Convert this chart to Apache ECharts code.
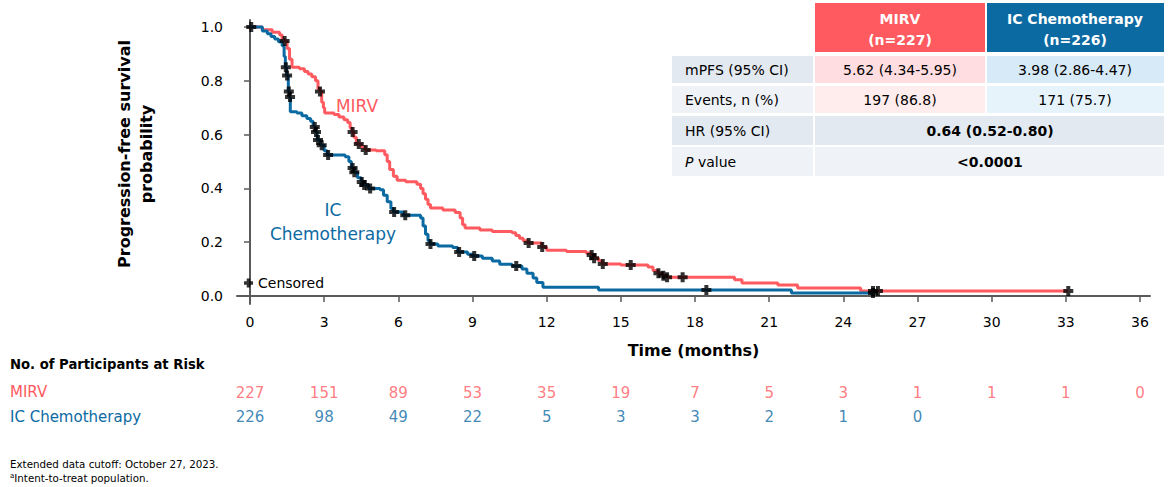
<!DOCTYPE html>
<html><head><meta charset="utf-8">
<script src="https://cdn.jsdelivr.net/npm/echarts@6/dist/echarts.min.js"></script>
<style>html,body{margin:0;padding:0;background:#fff}#c{width:1170px;height:487px}</style>
</head><body><div id="c"></div>
<script>
// ---------- DATA ----------
const xTicks = [0,3,6,9,12,15,18,21,24,27,30,33,36];
const yTicks = [0,0.2,0.4,0.6,0.8,1.0];

const mirvCurve = [[0,1.0],[0.5,0.99],[0.9,0.98],[1.2,0.97],[1.3,0.955],[1.38,0.948],[1.5,0.92],[1.6,0.88],[1.7,0.85],[2.0,0.845],[2.2,0.835],[2.35,0.825],[2.5,0.815],[2.65,0.80],[2.75,0.77],[2.83,0.76],[2.9,0.72],[2.97,0.70],[3.02,0.68],[3.4,0.675],[3.6,0.665],[3.8,0.655],[3.95,0.645],[4.05,0.625],[4.13,0.61],[4.2,0.59],[4.3,0.565],[4.5,0.555],[4.66,0.543],[5.1,0.54],[5.45,0.525],[5.55,0.50],[5.65,0.47],[5.8,0.445],[5.95,0.43],[6.3,0.425],[6.75,0.415],[6.9,0.40],[7.0,0.38],[7.1,0.36],[7.2,0.34],[7.3,0.327],[7.8,0.32],[8.3,0.31],[8.5,0.29],[8.6,0.265],[8.7,0.253],[9.3,0.245],[9.8,0.24],[10.6,0.235],[10.75,0.225],[10.9,0.215],[11.05,0.205],[11.25,0.197],[11.8,0.182],[12.0,0.17],[12.8,0.165],[13.6,0.16],[13.8,0.152],[13.9,0.14],[14.1,0.13],[14.25,0.119],[15.0,0.115],[16.1,0.108],[16.3,0.095],[16.5,0.085],[16.7,0.075],[16.85,0.07],[19.6,0.06],[19.9,0.048],[21.35,0.041],[22.15,0.03],[24.7,0.019],[33.1,0.019]];
const icCurve = [[0,1.0],[0.5,0.985],[0.7,0.975],[0.85,0.965],[1.0,0.955],[1.15,0.945],[1.3,0.93],[1.38,0.89],[1.43,0.85],[1.48,0.82],[1.55,0.76],[1.6,0.74],[1.63,0.685],[1.9,0.68],[2.1,0.67],[2.3,0.66],[2.45,0.65],[2.55,0.635],[2.6,0.628],[2.65,0.61],[2.72,0.58],[2.85,0.56],[3.0,0.54],[3.12,0.524],[3.85,0.518],[4.0,0.50],[4.1,0.476],[4.2,0.46],[4.35,0.44],[4.5,0.424],[4.6,0.413],[4.8,0.40],[5.26,0.395],[5.4,0.375],[5.55,0.35],[5.7,0.325],[5.8,0.312],[6.2,0.30],[6.9,0.29],[7.0,0.26],[7.1,0.23],[7.2,0.205],[7.28,0.193],[7.6,0.186],[8.2,0.18],[8.4,0.164],[8.8,0.155],[9.0,0.149],[9.4,0.14],[9.8,0.13],[10.1,0.118],[10.6,0.112],[11.0,0.10],[11.2,0.085],[11.45,0.067],[11.6,0.05],[11.85,0.033],[14.1,0.022],[21.9,0.011],[25.2,0.011]];

const mirvCensor = [[0.05,1.0],[1.4,0.948],[2.83,0.76],[4.15,0.61],[4.4,0.565],[4.68,0.543],[11.27,0.197],[11.82,0.182],[13.82,0.152],[13.92,0.14],[14.27,0.119],[15.4,0.115],[16.52,0.085],[16.72,0.075],[16.87,0.07],[17.5,0.07],[25.2,0.019],[25.4,0.019],[33.1,0.019]];
const icCensor = [[1.45,0.85],[1.5,0.82],[1.57,0.76],[1.62,0.74],[2.62,0.628],[2.67,0.61],[2.75,0.58],[2.9,0.56],[3.16,0.524],[4.15,0.476],[4.22,0.46],[4.52,0.424],[4.62,0.413],[4.86,0.40],[5.83,0.312],[6.28,0.30],[7.3,0.193],[8.46,0.164],[9.07,0.149],[10.77,0.112],[18.46,0.022],[25.2,0.011]];

const riskMonths = [0,3,6,9,12,15,18,21,24,27,30,33,36];
const riskMIRV = [227,151,89,53,35,19,7,5,3,1,1,1,0];
const riskIC = [226,98,49,22,5,3,3,2,1,0];

const tableRowLabels = ['mPFS (95% CI)','Events, n (%)','HR (95% CI)','{i|P} value'];
const tableMIRV = ['5.62 (4.34-5.95)','197 (86.8)'];
const tableIC = ['3.98 (2.86-4.47)','171 (75.7)'];
const tableMerged = ['0.64 (0.52-0.80)','<0.0001'];

// ---------- STYLE ----------
const FONT = '"DejaVu Sans", Verdana, sans-serif';
const RED = '#FF5A5F';
const BLUE = '#0C6AA3';
const AXIS = '#5a5a5a';
const PLUS = 'path://M3,0H7V3H10V7H7V10H3V7H0V3H3Z';

const chart = echarts.init(document.getElementById('c'), null, {renderer:'svg'});

function txt(text, x, y, o) {
  o = o || {};
  return {type:'text', silent:true, z:10, style:{text:text, x:x, y:y, fill:o.fill||'#000', fontSize:o.size||14, fontFamily:FONT, fontWeight:o.weight||'normal', textAlign:o.align||'left', textVerticalAlign:'middle', rich:o.rich}};
}
function rect(x,y,w,h,fill){return {type:'rect', silent:true, z:5, shape:{x:x,y:y,width:w,height:h}, style:{fill:fill}};}

const graphic = [];
// plot labels
graphic.push(txt('MIRV', 357, 106, {fill:RED, size:17, align:'center'}));
graphic.push(txt('IC', 333, 210, {fill:BLUE, size:17, align:'center'}));
graphic.push(txt('Chemotherapy', 333, 234, {fill:BLUE, size:17, align:'center'}));
// table
const rowsY = [[56,27],[86,27],[116,29],[147,29]];
const labelBg = ['#E3E9F1','#EFF3F8','#E3E9F1','#EFF3F8'];
graphic.push(rect(815,3,170,49,RED));
graphic.push(rect(987,3,177,49,BLUE));
graphic.push(txt('MIRV',900,19,{fill:'#fff',weight:'bold',size:14,align:'center'}));
graphic.push(txt('(n=227)',900,40,{fill:'#fff',weight:'bold',size:14,align:'center'}));
graphic.push(txt('IC Chemotherapy',1075,19,{fill:'#fff',weight:'bold',size:14,align:'center'}));
graphic.push(txt('(n=226)',1075,40,{fill:'#fff',weight:'bold',size:14,align:'center'}));
rowsY.forEach((r,i)=>{
  graphic.push(rect(672,r[0],141,r[1],labelBg[i]));
  graphic.push(txt(tableRowLabels[i],685,r[0]+r[1]/2,{size:14,rich:{i:{fontStyle:'italic',fontSize:14,fontFamily:FONT,fill:'#000'}}}));
  if (i<2) {
    graphic.push(rect(815,r[0],170,r[1], i===0?'#FFDDE0':'#FFECED'));
    graphic.push(rect(987,r[0],177,r[1], i===0?'#D6EAF8':'#E7F3FB'));
    graphic.push(txt(tableMIRV[i],900,r[0]+r[1]/2,{size:14,align:'center'}));
    graphic.push(txt(tableIC[i],1075,r[0]+r[1]/2,{size:14,align:'center'}));
  } else {
    graphic.push(rect(815,r[0],349,r[1],labelBg[i]));
    graphic.push(txt(tableMerged[i-2],990,r[0]+r[1]/2,{size:14,align:'center',weight:'bold'}));
  }
});
// risk table labels
graphic.push(txt('No. of Participants at Risk',10,364,{size:13.2,weight:'bold'}));
graphic.push(txt('MIRV',10,392,{size:15,fill:RED}));
graphic.push(txt('IC Chemotherapy',10,417,{size:15,fill:BLUE}));
// footnotes
graphic.push(txt('Extended data cutoff: October 27, 2023.',10,464,{size:10.3}));
graphic.push(txt('{s|a}Intent-to-treat population.',10,478,{size:10.3,rich:{s:{fontSize:7,fontFamily:FONT,verticalAlign:'top',padding:[0,0,5,0]}}}));

function riskSeries(values, name, color){
  return {type:'scatter', xAxisIndex:1, yAxisIndex:1, silent:true, symbolSize:1,
    itemStyle:{color:'rgba(0,0,0,0)'},
    data: values.map((v,i)=>[riskMonths[i], name]),
    label:{show:true, position:'inside', formatter:p=>String(values[p.dataIndex]), color:color, fontSize:15, fontFamily:FONT}};
}

const option = {
  animation:false,
  backgroundColor:'#fff',
  grid:[
    {left:237, right:20, top:20, bottom:183},
    {left:237, right:20, top:381, height:48}
  ],
  legend:{data:[{name:'Censored', icon:PLUS}], left:239, top:271, itemWidth:9, itemHeight:9, itemGap:4,
    textStyle:{fontSize:14, fontFamily:FONT, color:'#000'}, selectedMode:false},
  xAxis:[
    {type:'value', gridIndex:0, min:-0.526, max:36.405,
     splitLine:{show:false},
     axisLine:{show:true, lineStyle:{color:AXIS, width:2}},
     axisTick:{show:true, customValues:xTicks, length:6, lineStyle:{color:AXIS, width:1.5}},
     axisLabel:{show:true, customValues:xTicks, margin:11, fontSize:14, fontFamily:FONT, color:'#000'},
     name:'Time (months)', nameLocation:'middle', nameGap:38,
     nameTextStyle:{fontSize:16, fontWeight:'bold', fontFamily:FONT, color:'#000'}},
    {type:'value', gridIndex:1, min:-0.526, max:36.405, show:false}
  ],
  yAxis:[
    {type:'value', gridIndex:0, min:-0.0297, max:1.026,
     splitLine:{show:false},
     axisLine:{show:true, lineStyle:{color:AXIS, width:2}},
     axisTick:{show:true, customValues:yTicks, length:6, lineStyle:{color:AXIS, width:1.5}},
     axisLabel:{show:true, customValues:yTicks, margin:14, fontSize:14, fontFamily:FONT, color:'#000', formatter:v=>Number(v).toFixed(1)},
     name:'Progression-free survival\nprobability', nameLocation:'middle', nameGap:80, nameRotate:90,
     nameTextStyle:{fontSize:16, fontWeight:'bold', fontFamily:FONT, color:'#000', lineHeight:22, padding:[0,0,0,16]}},
    {type:'category', gridIndex:1, inverse:true, data:['MIRV','IC Chemotherapy'], show:false}
  ],
  series:[
    {name:'MIRV', type:'line', step:'end', data:mirvCurve, showSymbol:false, silent:true,
     lineStyle:{color:RED, width:3}, itemStyle:{color:RED}, z:2},
    {name:'IC Chemotherapy', type:'line', step:'end', data:icCurve, showSymbol:false, silent:true,
     lineStyle:{color:BLUE, width:3}, itemStyle:{color:BLUE}, z:3},
    {name:'Censored', type:'scatter', data:mirvCensor, symbol:PLUS, symbolSize:10, itemStyle:{color:'#000'}, z:5, silent:true},
    {name:'Censored', type:'scatter', data:icCensor, symbol:PLUS, symbolSize:10, itemStyle:{color:'#000'}, z:5, silent:true},
    riskSeries(riskMIRV,'MIRV',RED),
    riskSeries(riskIC,'IC Chemotherapy',BLUE)
  ],
  graphic: graphic
};
chart.setOption(option);
</script>
</body></html>
